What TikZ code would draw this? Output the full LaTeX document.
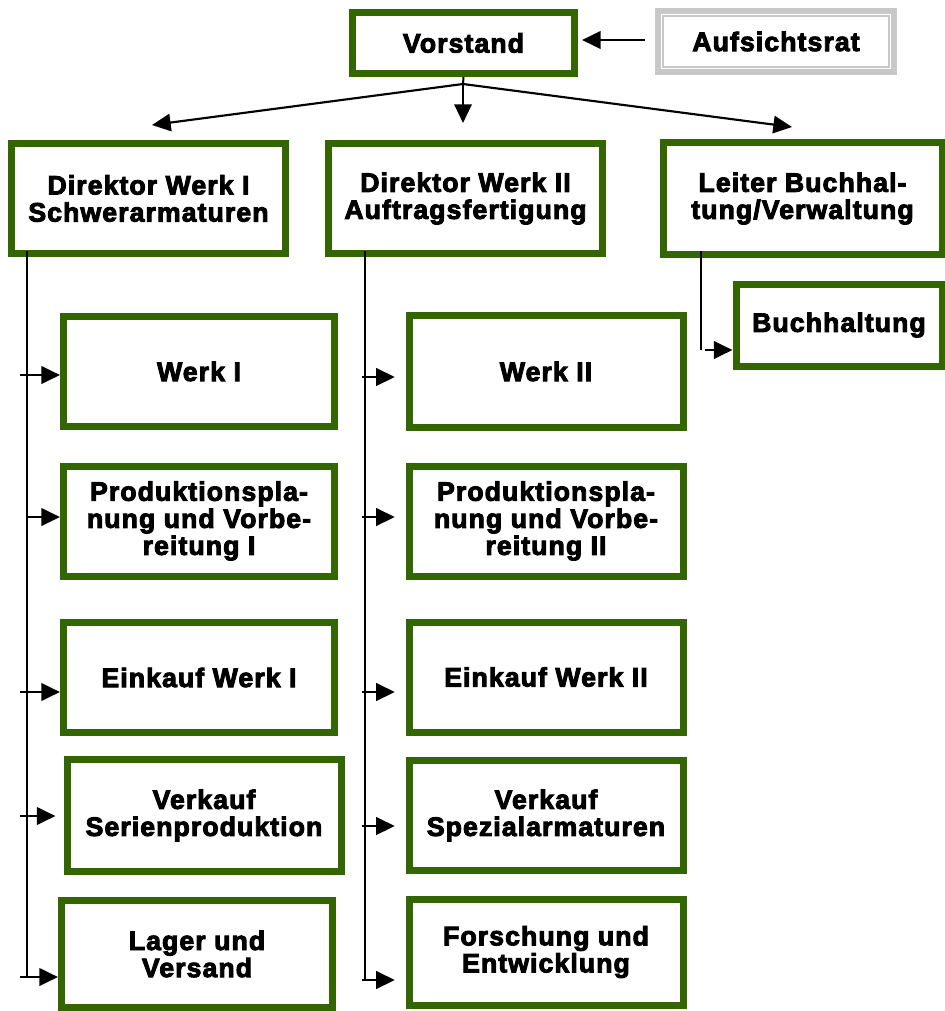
\documentclass[tikz,border=0pt]{standalone}
\usepackage{fontspec}
\newfontfamily\blk{Liberation Sans}[BoldFeatures={FakeBold=3.5},LetterSpace=4]
\usetikzlibrary{arrows.meta}
\definecolor{grn}{RGB}{51,102,0}
\definecolor{lgray}{RGB}{200,200,200}
\begin{document}
\begin{tikzpicture}[x=0.75pt,y=-0.75pt,
  box/.style 2 args={draw=grn, line width=5.25pt, fill=white, align=center, inner sep=0pt,
    minimum width=#1*0.75pt, minimum height=#2*0.75pt,
    font=\blk\bfseries\fontsize{20}{20.3}\selectfont},
  arr/.style={-{Triangle[length=14pt,width=13pt]}, line width=1.6pt},
  harr/.style={-{Triangle[length=14pt,width=13pt]}, line width=2.2pt},
  ln/.style={line width=1.5pt}]
\useasboundingbox (0,0) rectangle (945,1011);
% top
\node[box={222}{61}] (vor) at (463.5,43) {Vorstand};
\node[box={236}{61}, draw=lgray, line width=4.5pt] (auf) at (776,41.5) {Aufsichtsrat};
\draw[lgray, line width=1.5pt] ([shift={(8,8)}]auf.north west) rectangle ([shift={(-8,-8)}]auf.south east);
% directors
\node[box={274}{110}] (d1) at (148.5,198.5) {Direktor Werk I\\Schwerarmaturen};
\node[box={274}{110}] (d2) at (465.5,198.5) {Direktor Werk II\\Auftragsfertigung};
\node[box={279}{112}] (lb) at (802.5,198.5) {Leiter Buchhal-\\tung/Verwaltung};
\node[box={206}{82}] (buch) at (839,325) {Buchhaltung};
% column 1
\node[box={271}{110}] (w1) at (199,371.5) {Werk I};
\node[box={271}{110}] (p1) at (199,521) {Produktionspla-\\nung und Vorbe-\\reitung I};
\node[box={271}{110}] (e1) at (199,677.5) {Einkauf Werk I};
\node[box={274}{112}] (v1) at (204,815.5) {Verkauf\\Serienproduktion};
\node[box={271}{107}] (l1) at (197,954) {Lager und\\Versand};
% column 2
\node[box={274}{112}] (w2) at (546,371.5) {Werk II};
\node[box={274}{110}] (p2) at (546,521) {Produktionspla-\\nung und Vorbe-\\reitung II};
\node[box={274}{110}] (e2) at (546,677) {Einkauf Werk II};
\node[box={274}{110}] (v2) at (546,815.5) {Verkauf\\Spezialarmaturen};
\node[box={274}{106}] (f2) at (546,952) {Forschung und\\Entwicklung};
% Vorstand connectors
\coordinate (vb) at (463,84);
\coordinate (tl) at (152,125);
\coordinate (tm) at (463,123);
\coordinate (tr) at (792,127);
\draw[ln] (vor.south) -- (vb);
\draw[arr] (vb) -- (tl);
\draw[arr] (vb) -- (tm);
\draw[arr] (vb) -- (tr);
\coordinate (aw) at (645,40);
\draw[harr] (aw) -- ([xshift=3]vor.east |- aw);
% column 1 connectors
\coordinate (c1t) at (27,251);
\coordinate (c1a) at (27,375);
\coordinate (c1b) at (27,517);
\coordinate (c1c) at (27,692);
\coordinate (c1d) at (27,816);
\coordinate (c1e) at (27,977);
\draw[ln] (c1t) -- (c1e);
\draw[harr] ([xshift=-5]c1a) -- (c1a -| w1.west);
\draw[harr] (c1b) -- (c1b -| p1.west);
\draw[harr] ([xshift=-5]c1c) -- (c1c -| e1.west);
\draw[harr] ([xshift=-5]c1d) -- ([xshift=-6]c1d -| v1.west);
\draw[harr] ([xshift=-5]c1e) -- (c1e -| l1.west);
% column 2 connectors
\coordinate (c2t) at (365,251);
\coordinate (c2a) at (365,377);
\coordinate (c2b) at (365,517);
\coordinate (c2c) at (365,692);
\coordinate (c2d) at (365,826);
\coordinate (c2e) at (365,980);
\draw[ln] (c2t) -- (c2e);
\draw[harr] ([xshift=-2]c2a) -- ([xshift=-8]c2a -| w2.west);
\draw[harr] ([xshift=-2]c2b) -- ([xshift=-8]c2b -| p2.west);
\draw[harr] ([xshift=-2]c2c) -- ([xshift=-8]c2c -| e2.west);
\draw[harr] ([xshift=-2]c2d) -- ([xshift=-8]c2d -| v2.west);
\draw[harr] ([xshift=-2]c2e) -- ([xshift=-8]c2e -| f2.west);
% Buchhaltung connector
\coordinate (c3t) at (701,251);
\coordinate (c3b) at (701,350);
\draw[ln] (c3t) -- (c3b);
\draw[harr] ([xshift=3]c3b) -- (c3b -| buch.west);
\end{tikzpicture}
\end{document}
